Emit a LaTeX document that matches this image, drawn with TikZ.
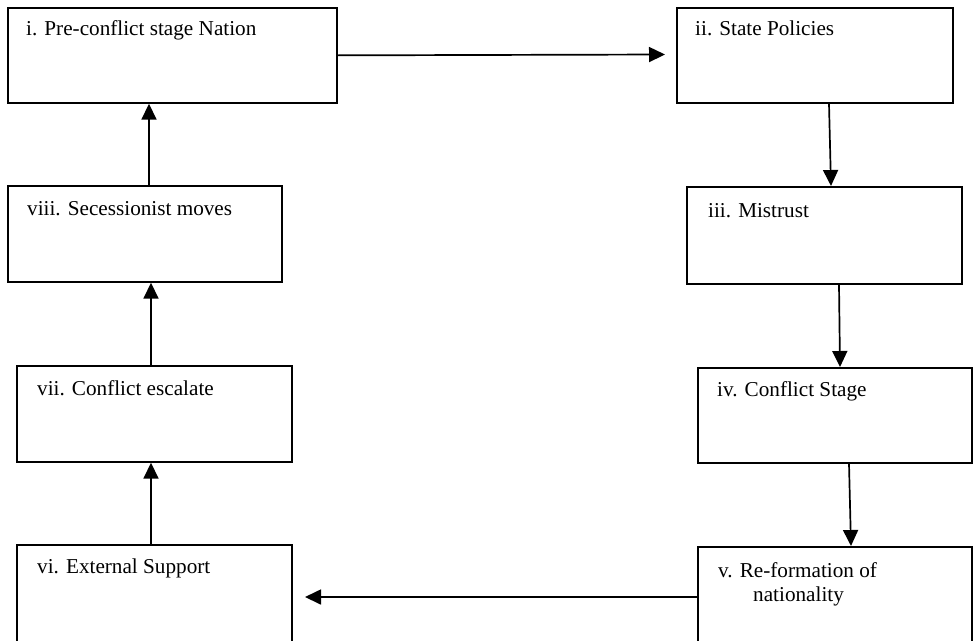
\documentclass[tikz,border=0pt]{standalone}
\usepackage{fontspec}
\setmainfont{Liberation Serif}
\usetikzlibrary{arrows.meta,calc}
\begin{document}
\begin{tikzpicture}[x=1pt,y=-1pt,
  box/.style={draw=black,line width=1.7pt,fill=none,inner sep=0pt,anchor=north west},
  lbl/.style={anchor=base west,inner sep=0pt,font=\fontsize{21.2}{24}\selectfont},
  arr/.style={draw=black,line width=1.7pt,-{Triangle[length=16pt,width=15pt]}}]
\useasboundingbox (0,0) rectangle (973,640);
% boxes
\node[box,minimum width=329pt,minimum height=95pt] (i) at (7,7) {};
\node[box,minimum width=276pt,minimum height=95pt] (ii) at (676,7) {};
\node[box,minimum width=275pt,minimum height=97pt] (iii) at (686,186) {};
\node[box,minimum width=274pt,minimum height=95pt] (iv) at (697,367) {};
\node[box,minimum width=274pt,minimum height=110pt] (v) at (697,546) {};
\node[box,minimum width=275pt,minimum height=110pt] (vi) at (16,544) {};
\node[box,minimum width=275pt,minimum height=96pt] (vii) at (16,365) {};
\node[box,minimum width=274pt,minimum height=96pt] (viii) at (7,185) {};
% labels
\node[lbl] (ti) at (26,35) {i. Pre-conflict stage Nation};
\node[lbl] (tii) at (695,35) {ii. State Policies};
\node[lbl] (tiii) at (708,217) {iii. Mistrust};
\node[lbl] (tiv) at (717,396) {iv. Conflict Stage};
\node[lbl] (tv) at (718,577) {v. Re-formation of};
\node[lbl] (tv2) at (753,601) {nationality};
\node[lbl] (tvi) at (37,573) {vi. External Support};
\node[lbl] (tvii) at (37,395) {vii. Conflict escalate};
\node[lbl] (tviii) at (27,215) {viii. Secessionist moves};
% free ends
\coordinate (e12) at (665,54.5);
\coordinate (e56) at (305,597);
% arrows
\draw[arr] (i.east) -- (e12);
\draw[arr] ([xshift=153pt]ii.south west) -- ([xshift=145pt]iii.north west);
\draw[arr] ([xshift=153pt]iii.south west) -- ([xshift=143pt]iv.north west);
\draw[arr] ([xshift=152pt]iv.south west) -- ([xshift=154pt]v.north west);
\draw[arr] ([yshift=-51pt]v.north west) -- (e56);
\draw[arr] ([xshift=135pt]vi.north west) -- ([xshift=135pt]vii.south west);
\draw[arr] ([xshift=135pt]vii.north west) -- ([xshift=144pt]viii.south west);
\draw[arr] ([xshift=142pt]viii.north west) -- ([xshift=142pt]i.south west);
\end{tikzpicture}
\end{document}
